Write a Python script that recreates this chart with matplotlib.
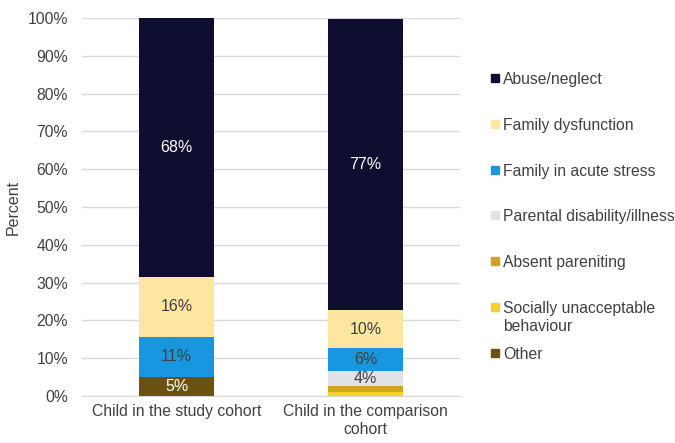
import matplotlib.pyplot as plt
from matplotlib.patches import Rectangle
import numpy as np

plt.rcParams['font.family'] = ['Liberation Sans', 'DejaVu Sans']

cohorts = ["Child in the study cohort", "Child in the comparison\ncohort"]
# stacked from the bottom up
categories = ["Other", "Socially unacceptable\nbehaviour", "Absent pareniting",
              "Parental disability/illness", "Family in acute stress",
              "Family dysfunction", "Abuse/neglect"]
study = [5.0, 0.0, 0.0, 0.0, 10.7, 15.9, 68.4]
comparison = [0.0, 1.1, 1.5, 4.1, 6.0, 10.0, 77.0]
colors = ["#6b5210", "#fccf2e", "#d4a21f", "#e1e1e8", "#1896e0", "#fde6a0", "#0e0f30"]
label_colors = ["white", "#404040", "#404040", "#404040", "#404040", "#404040", "white"]
text_color = "#404040"

W, H = 675, 443
fig = plt.figure(figsize=(W / 100, H / 100), dpi=100)
ax = fig.add_axes([82 / W, 1 - 396 / H, 378 / W, 378 / H])

x = np.arange(len(cohorts))
bottom = np.zeros(len(cohorts))
for i, cat in enumerate(categories):
    vals = np.array([study[i], comparison[i]])
    bars = ax.bar(x, vals, 0.4, bottom=bottom, color=colors[i], label=cat, zorder=3)
    for b, v, y0 in zip(bars, vals, bottom):
        if v >= 3:
            ax.text(b.get_x() + b.get_width() / 2, y0 + v / 2, f"{v:.0f}%",
                    ha="center", va="center", fontsize=11.5, color=label_colors[i], zorder=4)
    bottom += vals

ax.set_xlim(-0.5, 1.5)
ax.set_ylim(0, 100)
ax.set_yticks(range(0, 101, 10))
ax.set_yticklabels([f"{t}%" for t in range(0, 101, 10)])
ax.set_xticks(x)
ax.set_xticklabels(cohorts)
ax.tick_params(axis="y", length=0, labelsize=11.3, labelcolor=text_color, pad=10)
ax.tick_params(axis="x", length=0, labelsize=11.3, labelcolor=text_color, pad=6)
ax.yaxis.grid(True, color="#d9d9d9", linewidth=1, zorder=0)
for s in ["top", "right", "left"]:
    ax.spines[s].set_visible(False)
ax.spines["bottom"].set_color("#d9d9d9")
ax.set_ylabel("Percent", fontsize=11.5, color=text_color, labelpad=5)

# legend, Excel style: evenly spaced entries, square aligned with first text line
for k, i in enumerate(range(len(categories) - 1, -1, -1)):
    yc = 78 + k * 45.8
    fig.patches.append(Rectangle((491 / W, 1 - (yc + 4) / H), 8 / W, 8 / H,
                                 transform=fig.transFigure, color=colors[i]))
    fig.text(503 / W, 1 - (yc - 6) / H, categories[i], ha="left", va="top",
             fontsize=11.3, color=text_color, linespacing=1.25)

fig.savefig("out.png", dpi=100)
